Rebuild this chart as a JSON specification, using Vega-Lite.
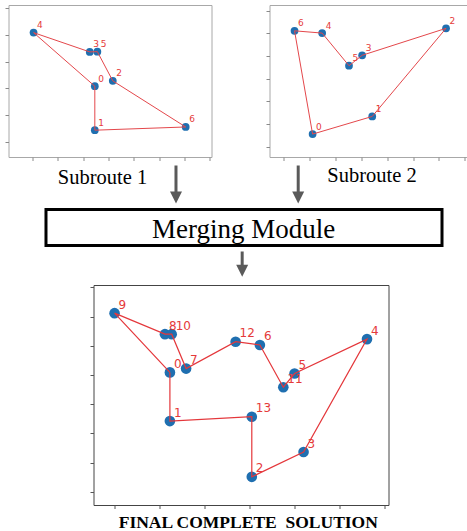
{
  "$schema": "https://vega.github.io/schema/vega-lite/v6.json",
  "background": "white",
  "padding": {"left": 3.5, "top": 4, "right": 0, "bottom": 0},
  "spacing": 0,
  "config": {
    "axis": {
      "labels": false, "domain": false, "grid": false,
      "tickSize": 3.5, "tickColor": "#8a8a8a",
      "titleFont": "Liberation Serif", "titleFontWeight": "normal",
      "titleColor": "#000000", "titleFontSize": 20,
      "titleBaseline": "alphabetic", "titleAlign": "center"
    }
  },
  "datasets": {
    "s1_nodes": [
      {"node": 0, "x": 2.46, "y": 2.08},
      {"node": 1, "x": 2.46, "y": 0.44},
      {"node": 2, "x": 3.17, "y": 2.28},
      {"node": 3, "x": 2.26, "y": 3.36},
      {"node": 4, "x": 0.04, "y": 4.08},
      {"node": 5, "x": 2.56, "y": 3.37},
      {"node": 6, "x": 6.05, "y": 0.56}
    ],
    "s1_route": [
      {"step": 0, "node": 0}, {"step": 1, "node": 1}, {"step": 2, "node": 6},
      {"step": 3, "node": 2}, {"step": 4, "node": 5}, {"step": 5, "node": 3},
      {"step": 6, "node": 4}, {"step": 7, "node": 0}
    ],
    "s2_nodes": [
      {"node": 0, "x": 1.11, "y": 0.55},
      {"node": 1, "x": 3.42, "y": 1.33},
      {"node": 2, "x": 6.28, "y": 5.22},
      {"node": 3, "x": 3.03, "y": 4.03},
      {"node": 4, "x": 1.48, "y": 5.01},
      {"node": 5, "x": 2.52, "y": 3.57},
      {"node": 6, "x": 0.41, "y": 5.11}
    ],
    "s2_route": [
      {"step": 0, "node": 0}, {"step": 1, "node": 1}, {"step": 2, "node": 2},
      {"step": 3, "node": 3}, {"step": 4, "node": 5}, {"step": 5, "node": 4},
      {"step": 6, "node": 6}, {"step": 7, "node": 0}
    ],
    "final_nodes": [
      {"node": 0, "x": 1.24, "y": 4.09},
      {"node": 1, "x": 1.24, "y": 2.42},
      {"node": 2, "x": 3.06, "y": 0.51},
      {"node": 3, "x": 4.21, "y": 1.36},
      {"node": 4, "x": 5.62, "y": 5.23},
      {"node": 5, "x": 4.01, "y": 4.05},
      {"node": 6, "x": 3.24, "y": 5.03},
      {"node": 7, "x": 1.6, "y": 4.22},
      {"node": 8, "x": 1.13, "y": 5.4},
      {"node": 9, "x": 0.01, "y": 6.12},
      {"node": 10, "x": 1.28, "y": 5.4},
      {"node": 11, "x": 3.76, "y": 3.58},
      {"node": 12, "x": 2.7, "y": 5.14},
      {"node": 13, "x": 3.06, "y": 2.57}
    ],
    "final_route": [
      {"step": 0, "node": 0}, {"step": 1, "node": 1}, {"step": 2, "node": 13},
      {"step": 3, "node": 2}, {"step": 4, "node": 3}, {"step": 5, "node": 4},
      {"step": 6, "node": 5}, {"step": 7, "node": 11}, {"step": 8, "node": 6},
      {"step": 9, "node": 12}, {"step": 10, "node": 7}, {"step": 11, "node": 10},
      {"step": 12, "node": 8}, {"step": 13, "node": 9}, {"step": 14, "node": 0}
    ],
    "arrows": [
      {"x": 36.41, "y": 2.88, "y2": 25.51, "head": 29.22},
      {"x": 62.98, "y": 2.88, "y2": 25.51, "head": 29.22},
      {"x": 50.8, "y": 73.66, "y2": 85.19, "head": 89.55}
    ],
    "captions": [
      {"x": 20.43, "y": 17.7, "label": "Subroute 1"},
      {"x": 79.02, "y": 16.87, "label": "Subroute 2"}
    ],
    "module": [
      {"x": 8.15, "x2": 94.24, "y": 39.09, "y2": 68.72, "tx": 51.09, "ty": 62.14, "label": "Merging Module"}
    ]
  },
  "vconcat": [
    {
      "bounds": "flush",
      "spacing": 58,
      "hconcat": [
        {
          "width": 203, "height": 152,
          "view": {"stroke": "#a8a8a8"},
          "encoding": {
            "x": {"field": "x", "type": "quantitative",
              "scale": {"domain": [-0.95, 7.07], "nice": false, "zero": false},
              "axis": {"values": [0, 1, 2, 3, 4, 5, 6, 7], "title": null}},
            "y": {"field": "y", "type": "quantitative",
              "scale": {"domain": [-0.56, 5.11], "nice": false, "zero": false},
              "axis": {"values": [0, 1, 2, 3, 4, 5], "title": null}}
          },
          "layer": [
            {"data": {"name": "s1_nodes"},
             "mark": {"type": "point", "filled": true, "size": 60, "color": "#1f6fb0", "opacity": 1}},
            {"data": {"name": "s1_route"},
             "transform": [{"lookup": "node", "from": {"data": {"name": "s1_nodes"}, "key": "node", "fields": ["x", "y"]}}],
             "mark": {"type": "line", "color": "#e4474b", "strokeWidth": 1},
             "encoding": {"order": {"field": "step", "type": "quantitative"}}},
            {"data": {"name": "s1_nodes"},
             "mark": {"type": "text", "color": "#e53a3a", "align": "left", "baseline": "alphabetic", "dx": 3.5, "dy": -4.5, "fontSize": 9, "font": "DejaVu Sans"},
             "encoding": {"text": {"field": "node", "type": "nominal"}}}
          ]
        },
        {
          "width": 199, "height": 152,
          "view": {"stroke": "#a8a8a8"},
          "encoding": {
            "x": {"field": "x", "type": "quantitative",
              "scale": {"domain": [-0.56, 7.15], "nice": false, "zero": false},
              "axis": {"values": [0, 1, 2, 3, 4, 5, 6, 7], "title": null}},
            "y": {"field": "y", "type": "quantitative",
              "scale": {"domain": [-0.46, 6.25], "nice": false, "zero": false},
              "axis": {"values": [0, 1, 2, 3, 4, 5, 6], "title": null}}
          },
          "layer": [
            {"data": {"name": "s2_nodes"},
             "mark": {"type": "point", "filled": true, "size": 60, "color": "#1f6fb0", "opacity": 1}},
            {"data": {"name": "s2_route"},
             "transform": [{"lookup": "node", "from": {"data": {"name": "s2_nodes"}, "key": "node", "fields": ["x", "y"]}}],
             "mark": {"type": "line", "color": "#e4474b", "strokeWidth": 1},
             "encoding": {"order": {"field": "step", "type": "quantitative"}}},
            {"data": {"name": "s2_nodes"},
             "mark": {"type": "text", "color": "#e53a3a", "align": "left", "baseline": "alphabetic", "dx": 3.5, "dy": -4.5, "fontSize": 9, "font": "DejaVu Sans"},
             "encoding": {"text": {"field": "node", "type": "nominal"}}}
          ]
        }
      ]
    },
    {
      "width": 460, "height": 121.5,
      "view": {"stroke": null},
      "layer": [
        {"data": {"name": "module"},
         "mark": {"type": "rect", "fill": "white", "stroke": "#000000", "strokeWidth": 3},
         "encoding": {
           "x": {"field": "x", "type": "quantitative", "scale": {"domain": [0, 100], "nice": false}, "axis": null},
           "x2": {"field": "x2"},
           "y": {"field": "y", "type": "quantitative", "scale": {"domain": [0, 100], "nice": false, "reverse": true}, "axis": null},
           "y2": {"field": "y2"}
         }},
        {"data": {"name": "module"},
         "mark": {"type": "text", "font": "Liberation Serif", "fontSize": 27, "color": "#000000", "align": "center", "baseline": "alphabetic"},
         "encoding": {
           "x": {"field": "tx", "type": "quantitative"},
           "y": {"field": "ty", "type": "quantitative"},
           "text": {"field": "label", "type": "nominal"}
         }},
        {"data": {"name": "captions"},
         "mark": {"type": "text", "font": "Liberation Serif", "fontSize": 20.5, "color": "#000000", "align": "center", "baseline": "alphabetic"},
         "encoding": {
           "x": {"field": "x", "type": "quantitative"},
           "y": {"field": "y", "type": "quantitative"},
           "text": {"field": "label", "type": "nominal"}
         }},
        {"data": {"name": "arrows"},
         "mark": {"type": "rule", "color": "#5a5a5a", "strokeWidth": 3},
         "encoding": {
           "x": {"field": "x", "type": "quantitative"},
           "y": {"field": "y", "type": "quantitative"},
           "y2": {"field": "y2"}
         }},
        {"data": {"name": "arrows"},
         "mark": {"type": "point", "shape": "M-1,-1L1,-1L0,1Z", "filled": true, "size": 144, "color": "#5a5a5a", "opacity": 1},
         "encoding": {
           "x": {"field": "x", "type": "quantitative"},
           "y": {"field": "head", "type": "quantitative"}
         }}
      ]
    },
    {
      "bounds": "flush",
      "spacing": 84,
      "hconcat": [
        {
          "width": 1, "height": 220,
          "view": {"stroke": null},
          "data": {"values": []},
          "mark": "point"
        },
        {
          "width": 295, "height": 220,
          "view": {"stroke": "#444444"},
          "encoding": {
            "x": {"field": "x", "type": "quantitative",
              "scale": {"domain": [-0.458, 6.098], "nice": false, "zero": false},
              "axis": {"values": [0, 1, 2, 3, 4, 5, 6], "tickColor": "#555555",
                "title": "FINAL COMPLETE\u00a0 SOLUTION", "titleFontWeight": "bold", "titleFontSize": 17.5,
                "titleX": 154.3, "titleY": 22}},
            "y": {"field": "y", "type": "quantitative",
              "scale": {"domain": [-0.456, 7.085], "nice": false, "zero": false},
              "axis": {"values": [0, 1, 2, 3, 4, 5, 6, 7], "tickColor": "#555555", "title": null}}
          },
          "layer": [
            {"data": {"name": "final_nodes"},
             "mark": {"type": "point", "filled": true, "size": 113, "color": "#1f6fb0", "opacity": 1}},
            {"data": {"name": "final_route"},
             "transform": [{"lookup": "node", "from": {"data": {"name": "final_nodes"}, "key": "node", "fields": ["x", "y"]}}],
             "mark": {"type": "line", "color": "#e4373b", "strokeWidth": 1.2},
             "encoding": {"order": {"field": "step", "type": "quantitative"}}},
            {"data": {"name": "final_nodes"},
             "mark": {"type": "text", "color": "#e53a3a", "align": "left", "baseline": "alphabetic", "dx": 4, "dy": -4.5, "fontSize": 12, "font": "DejaVu Sans"},
             "encoding": {"text": {"field": "node", "type": "nominal"}}}
          ]
        }
      ]
    }
  ]
}
